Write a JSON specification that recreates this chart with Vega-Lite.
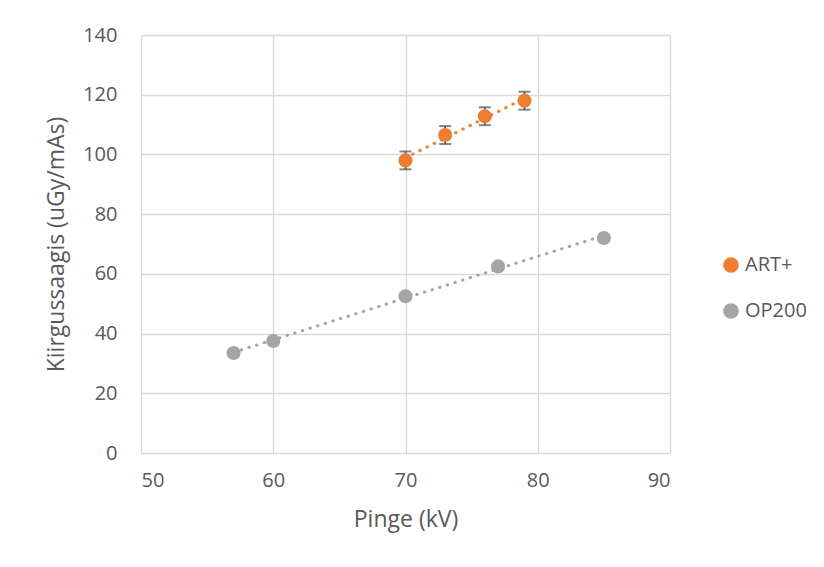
{
  "$schema": "https://vega.github.io/schema/vega-lite/v6.json",
  "autosize": {"type": "none"},
  "width": 529,
  "height": 418,
  "padding": {"left": 141, "top": 35, "right": 154, "bottom": 114},
  "background": "white",
  "config": {
    "font": "Open Sans",
    "view": {"stroke": null},
    "axis": {
      "gridColor": "#D9D9D9",
      "gridWidth": 1.3,
      "domain": false,
      "ticks": false,
      "labelColor": "#595959",
      "titleColor": "#595959",
      "labelFontSize": 20,
      "titleFontSize": 23,
      "titleFontWeight": "normal",
      "labelFont": "Open Sans",
      "titleFont": "Open Sans"
    },
    "legend": {
      "labelFontSize": 20, "labelColor": "#595959", "labelFont": "Open Sans",
      "symbolSize": 200, "symbolType": "circle", "rowPadding": 24, "labelOffset": 4
    }
  },
  "data": {
    "values": [
      {"series": "ART+", "kV": 70, "val": 98, "lo": 95, "hi": 101},
      {"series": "ART+", "kV": 73, "val": 106.5, "lo": 103.5, "hi": 109.5},
      {"series": "ART+", "kV": 76, "val": 112.8, "lo": 109.8, "hi": 115.8},
      {"series": "ART+", "kV": 79, "val": 118, "lo": 115, "hi": 121},
      {"series": "OP200", "kV": 57, "val": 33.5},
      {"series": "OP200", "kV": 60, "val": 37.5},
      {"series": "OP200", "kV": 70, "val": 52.5},
      {"series": "OP200", "kV": 77, "val": 62.5},
      {"series": "OP200", "kV": 85, "val": 72}
    ]
  },
  "encoding": {
    "x": {
      "field": "kV", "type": "quantitative",
      "scale": {"domain": [50, 90], "nice": false},
      "axis": {"values": [50, 60, 70, 80, 90], "title": "Pinge (kV)", "labelPadding": 17, "titlePadding": 18}
    }
  },
  "layer": [
    {
      "transform": [{"regression": "val", "on": "kV", "groupby": ["series"]}],
      "mark": {"type": "line", "strokeDash": [0.5, 7.5], "strokeCap": "round", "strokeWidth": 3},
      "encoding": {
        "y": {"field": "val", "type": "quantitative"},
        "color": {"field": "series", "type": "nominal", "scale": {"domain": ["ART+", "OP200"], "range": ["#ED7D31", "#A5A5A5"]}},
        "detail": {"field": "series"}
      }
    },
    {
      "transform": [{"filter": "datum.lo != null"}],
      "mark": {"type": "rule", "color": "#505050", "strokeWidth": 1.6},
      "encoding": {
        "y": {"field": "lo", "type": "quantitative"},
        "y2": {"field": "hi"}
      }
    },
    {
      "transform": [{"filter": "datum.lo != null"}],
      "mark": {"type": "tick", "orient": "horizontal", "color": "#505050", "size": 12, "thickness": 2},
      "encoding": {"y": {"field": "lo", "type": "quantitative"}}
    },
    {
      "transform": [{"filter": "datum.hi != null"}],
      "mark": {"type": "tick", "orient": "horizontal", "color": "#505050", "size": 12, "thickness": 2},
      "encoding": {"y": {"field": "hi", "type": "quantitative"}}
    },
    {
      "mark": {"type": "point", "filled": true, "opacity": 1, "size": 200, "shape": "circle"},
      "encoding": {
        "y": {
          "field": "val", "type": "quantitative",
          "scale": {"domain": [0, 140], "nice": false},
          "axis": {"values": [0, 20, 40, 60, 80, 100, 120, 140], "title": "Kiirgussaagis (uGy/mAs)", "labelPadding": 24, "titlePadding": 14}
        },
        "color": {
          "field": "series", "type": "nominal",
          "scale": {"domain": ["ART+", "OP200"], "range": ["#ED7D31", "#A5A5A5"]},
          "legend": {"title": null, "orient": "none", "legendX": 580, "legendY": 220}
        }
      }
    }
  ]
}
